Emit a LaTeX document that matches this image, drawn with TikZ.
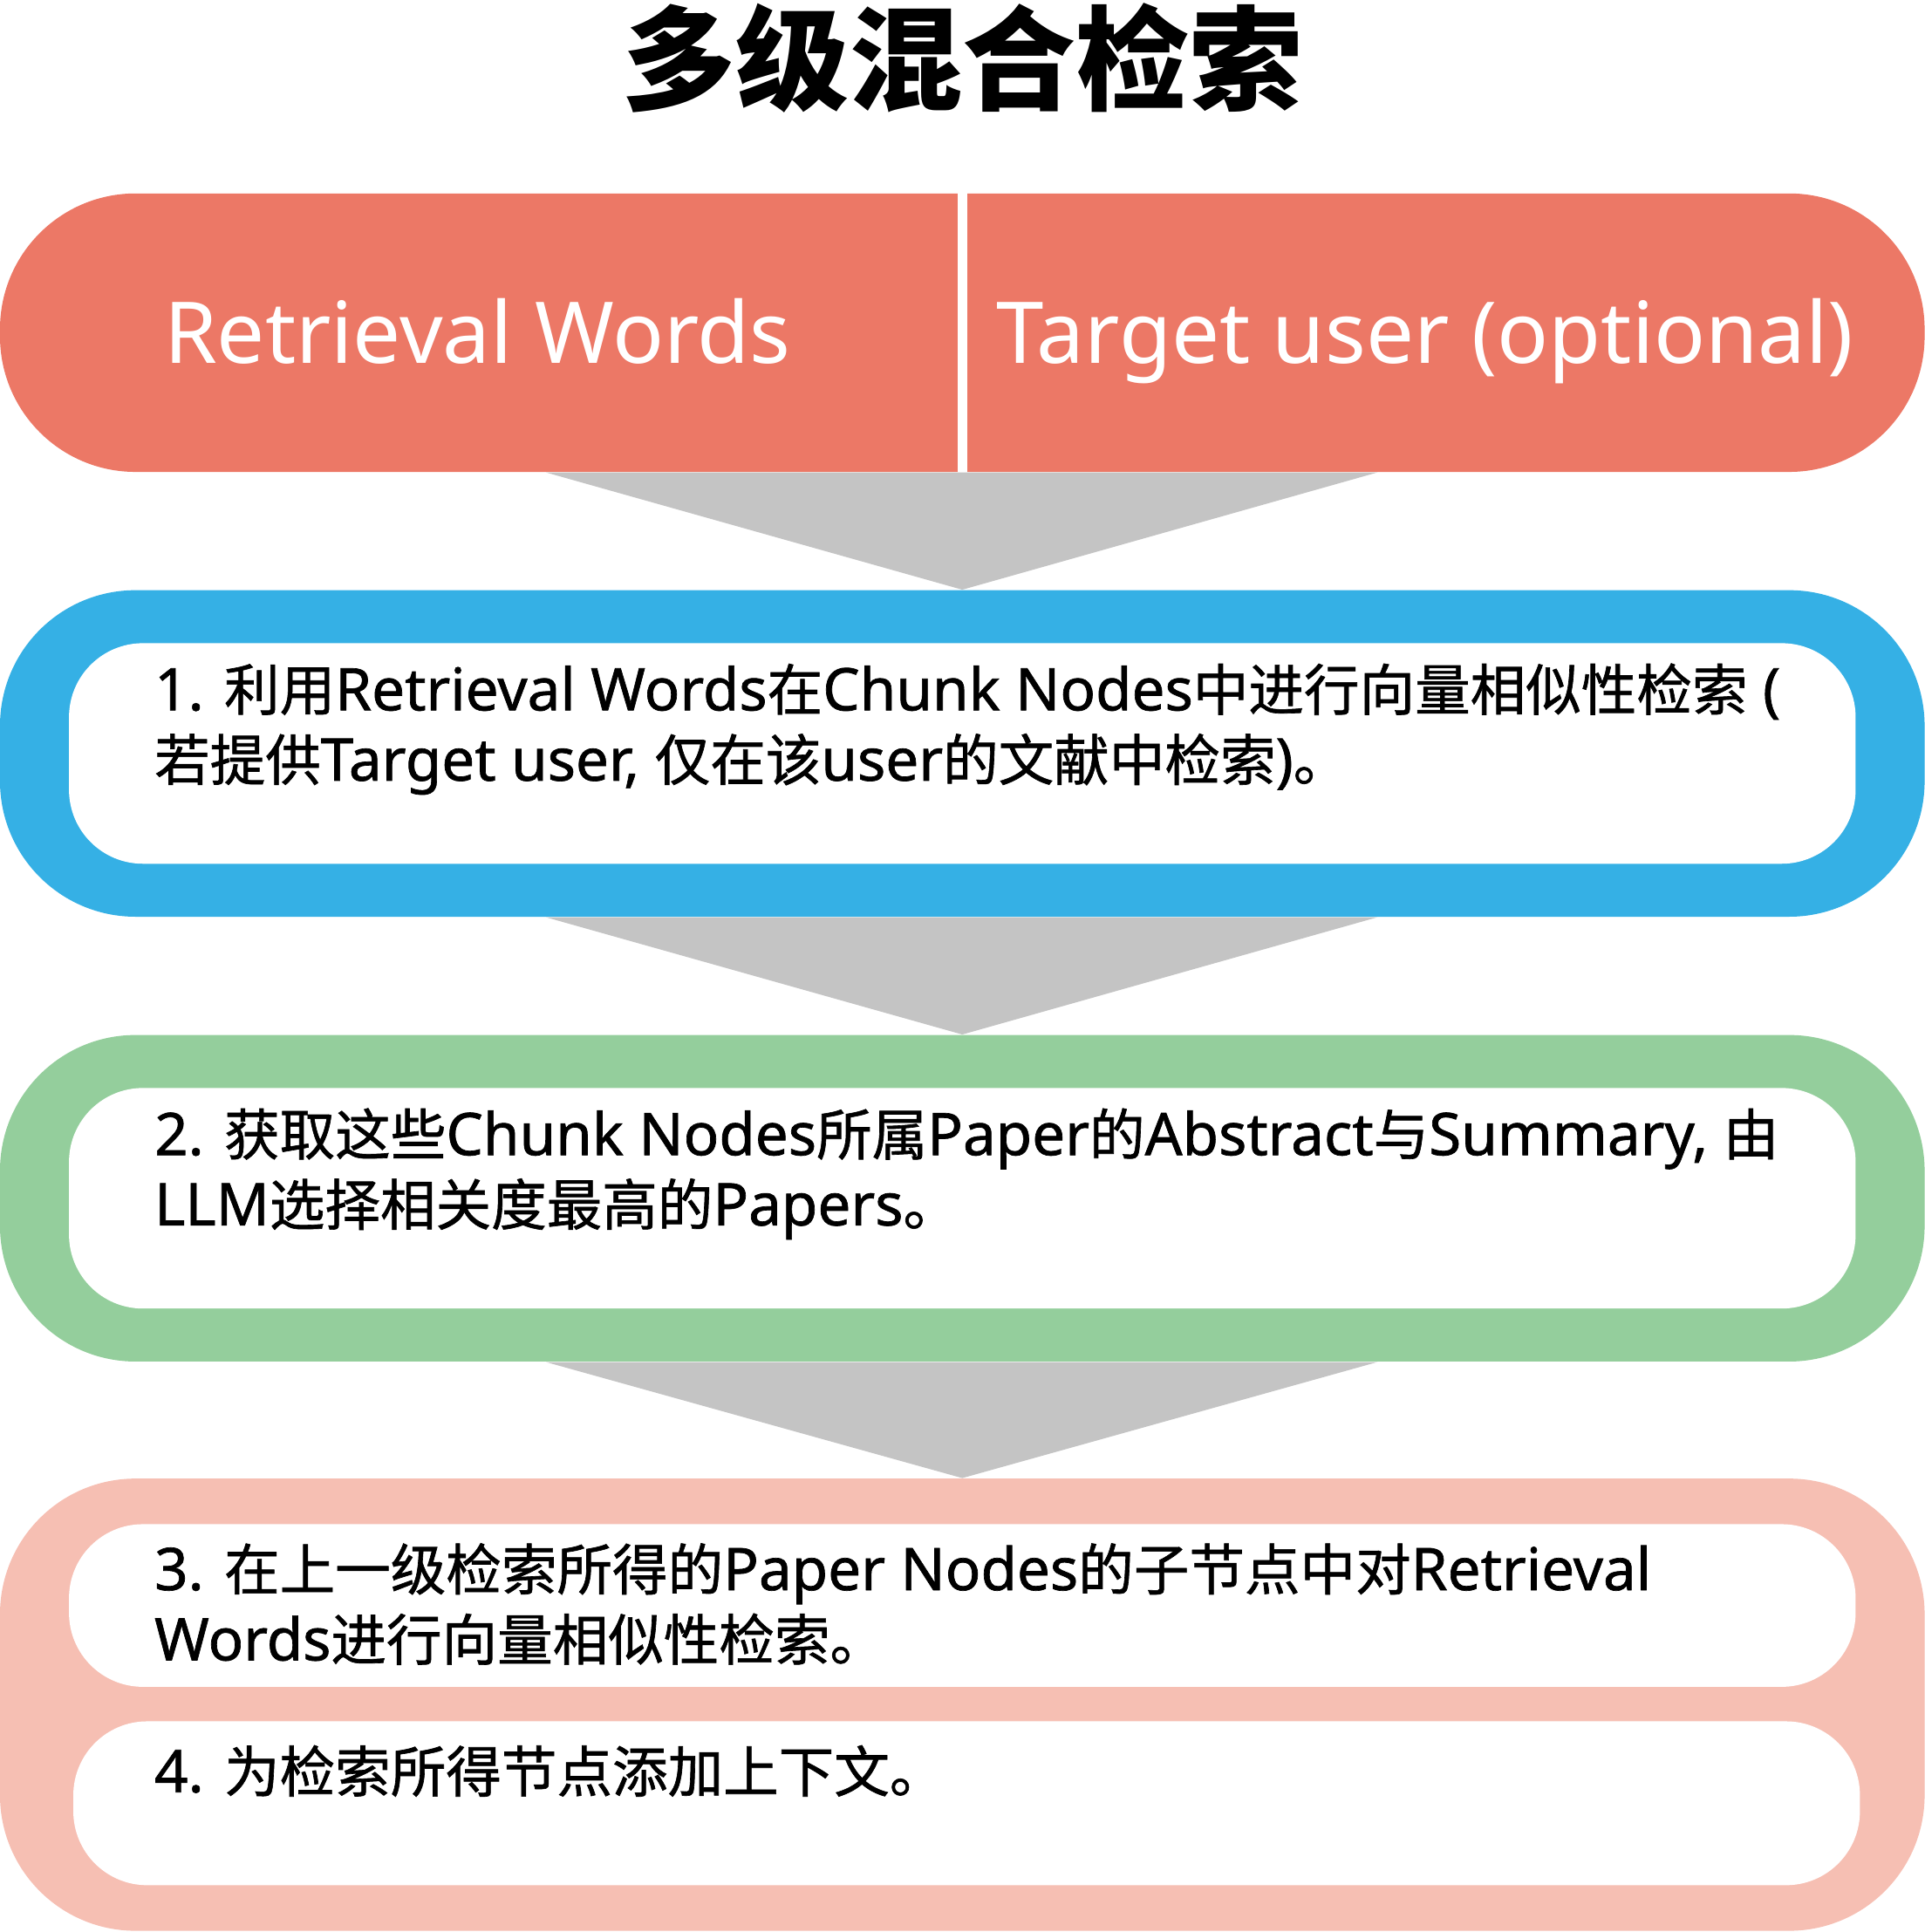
\documentclass[tikz,border=0pt]{standalone}
\usepackage{fontspec}
\setmainfont{Noto Sans}[Scale=1.06, FakeBold=1]
\newfontfamily\zhfont{Noto Sans CJK SC}[FakeBold=1]
\newfontfamily\hdrfont{Noto Sans}
\newfontfamily\titlefont{Noto Sans CJK SC}
\newcommand{\zh}[1]{{\zhfont #1}}
\usetikzlibrary{calc}
\definecolor{hdrred}{HTML}{EC7866}
\definecolor{stepblue}{HTML}{35B0E5}
\definecolor{stepgreen}{HTML}{94CE9C}
\definecolor{steppink}{HTML}{F6BFB3}
\definecolor{arrowgrey}{HTML}{C4C4C4}

\begin{document}
\begin{tikzpicture}[x=0.5pt, y=-0.5pt,
	outerbox/.style={rectangle, rounded corners=55pt, minimum width=781pt, inner sep=0pt},
	innerbox/.style={rectangle, fill=white, rounded corners=30pt, minimum width=725pt, inner sep=0pt},
	hdrtext/.style={anchor=base, text=white, inner sep=0pt, font=\hdrfont\fontsize{34.6pt}{40pt}\selectfont},
	steptext/.style={anchor=north west, align=left, inner sep=0pt, font=\fontsize{22.5pt}{28.5pt}\selectfont},
	chevron/.style={fill=arrowgrey}]
	\useasboundingbox (0,0) rectangle (1562,1568);
	%%% Titolo
	\node[inner sep=0pt, font=\fontsize{46pt}{52pt}\selectfont\titlefont\bfseries] (title) at (781,47) {多级混合检索};
	
	%%% Intestazione
	\node[outerbox, fill=hdrred, minimum height=113pt] (hdr) at (781,270) {};
	\draw[white, line width=4pt] (hdr.north) -- (hdr.south);
	\node[hdrtext] (words) at (387.5,295) {Retrieval Words};
	\node[hdrtext] (user) at (1156.5,295) {Target user (optional)};
	
	%%% Passo 1
	\node[outerbox, fill=stepblue, minimum height=132.5pt] (blue) at (781,611.5) {};
	\node[innerbox, minimum height=89.5pt] (blueinner) at (781,611.5) {};
	\node[steptext] (stepone) at (125,538) {1. \zh{利用}Retrieval Words\zh{在}Chunk Nodes\zh{中进行向量相似性检索} (\\\zh{若提供}Target user, \zh{仅在该}user\zh{的文献中检索})\zh{。}};
	\fill[chevron] ($(hdr.south)+(-338,0)$) -- ($(hdr.south)+(337,0)$) -- (blue.north) -- cycle;
	
	%%% Passo 2
	\node[outerbox, fill=stepgreen, minimum height=132.5pt] (green) at (781,972.5) {};
	\node[innerbox, minimum height=89.5pt] (greeninner) at (781,972.5) {};
	\node[steptext] (steptwo) at (125,899) {2. \zh{获取这些}Chunk Nodes\zh{所属}Paper\zh{的}Abstract\zh{与}Summary, \zh{由}\\LLM\zh{选择相关度最高的}Papers\zh{。}};
	\fill[chevron] ($(blue.south)+(-338,0)$) -- ($(blue.south)+(337,0)$) -- (green.north) -- cycle;
	
	%%% Passi 3 e 4
	\node[outerbox, fill=steppink, minimum height=183.5pt] (pink) at (781,1383.5) {};
	\node[innerbox, minimum height=66pt] (pinkone) at (781,1303) {};
	\node[innerbox, minimum height=66.5pt] (pinktwo) at (784.5,1463.5) {};
	\node[steptext] (stepthree) at (125,1252) {3. \zh{在上一级检索所得的}Paper Nodes\zh{的子节点中对}Retrieval\\Words\zh{进行向量相似性检索。}};
	\node[steptext] (stepfour) at (125,1416) {4. \zh{为检索所得节点添加上下文。}};
	\fill[chevron] ($(green.south)+(-338,0)$) -- ($(green.south)+(337,0)$) -- (pink.north) -- cycle;
\end{tikzpicture}
\end{document}
